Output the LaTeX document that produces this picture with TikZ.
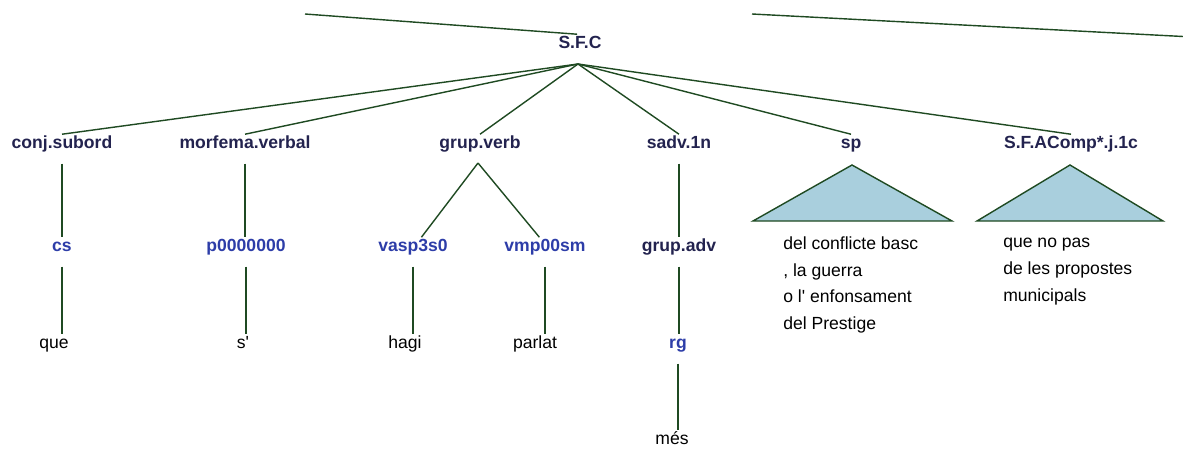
\documentclass[tikz,border=0pt]{standalone}
\usepackage{fontspec}
\setmainfont{Liberation Sans}
\usetikzlibrary{positioning,calc}
\definecolor{navy}{HTML}{23234F}
\definecolor{tagblue}{HTML}{2D3DA8}
\definecolor{branch}{HTML}{1F4A22}
\definecolor{trifill}{HTML}{A9CFDD}

\begin{document}
\begin{tikzpicture}[x=0.025cm,y=-0.025cm,
  lbl/.style={inner sep=1pt, text height=9pt, text depth=2.5pt},
  cat/.style={lbl, font=\fontsize{12.5}{14}\selectfont\bfseries, text=navy},
  tag/.style={lbl, font=\fontsize{12.5}{14}\selectfont\bfseries, text=tagblue},
  word/.style={lbl, font=\fontsize{12.5}{14}\selectfont},
  span/.style={inner sep=0pt, anchor=west, align=left, font=\fontsize{12.5}{19}\selectfont},
  edge/.style={draw=branch, line width=1pt},
  tri/.style={draw=branch, fill=trifill, line width=1pt}]
\useasboundingbox (0,0) rectangle (1183,448);

% root of this piece and the cut-off lines above it
\node[cat] (sfc) at (580,44) {S.F.C};
\coordinate (sfcb) at (578,64);
\coordinate (upL) at (305,14);
\coordinate (upR) at (752,14);
\coordinate (offR) at (1183,36.5);
\draw[edge] (upL) -- ([xshift=-2]sfc.north);
\draw[edge] (upR) -- (offR);

% first level
\foreach \name/\x/\txt in {%
  conj/62/conj.subord,%
  morf/245/morfema.verbal,%
  gv/480/grup.verb,%
  sadv/679/sadv.1n,%
  sp/851/sp,%
  sfa/1071/{S.F.AComp*.j.1c}%
} {
  \node[cat] (\name) at (\x,144) {\txt};
  \draw[edge] (sfcb) -- (\name.north);
}

% second level
\node[tag] (cs) at (62,247) {cs};
\node[tag] (pron) at (246,247) {p0000000};
\node[tag] (vasp) at (413,247) {vasp3s0};
\node[tag] (vmp) at (545,247) {vmp00sm};
\node[cat] (gadv) at (679,247) {grup.adv};
\coordinate (gvb) at (478,163);
\draw[edge] ([yshift=-7pt]conj.south) -- (conj.south |- cs.north);
\draw[edge] ([yshift=-7pt]morf.south) -- (morf.south |- pron.north);
\draw[edge] (gvb) -- ([xshift=6]vasp.north);
\draw[edge] (gvb) -- ([xshift=-4]vmp.north);
\draw[edge] ([yshift=-7pt]sadv.south) -- (sadv.south |- gadv.north);

% collapsed phrases
\draw[tri] (852,165) -- (952,221) -- (753,221) -- cycle;
\draw[tri] (1070,165) -- (1163,221) -- (977,221) -- cycle;
\node[span] (spwords) at (783,285) {del conflicte basc\\, la guerra\\o l\textquotesingle{} enfonsament\\del Prestige};
\node[span] (sfawords) at (1003,271.5) {que no pas\\de les propostes\\municipals};

% third level
\node[word] (que) at (54,344) {que};
\node[word] (s) at (243,344) {s\textquotesingle};
\node[word] (hagi) at (405,344) {hagi};
\node[word] (parlat) at (535,344) {parlat};
\node[tag] (rg) at (678,344) {rg};
\draw[edge] ([yshift=-7pt]cs.south) -- (cs.south |- que.north);
\draw[edge] ([yshift=-7pt]pron.south) -- (pron.south |- s.north);
\draw[edge] ([yshift=-7pt]vasp.south) -- (vasp.south |- hagi.north);
\draw[edge] ([yshift=-7pt]vmp.south) -- (vmp.south |- parlat.north);
\draw[edge] ([yshift=-7pt]gadv.south) -- (gadv.south |- rg.north);

% fourth level
\node[word] (mes) at (672,440) {més};
\draw[edge] ([yshift=-7pt]rg.south) -- (rg.south |- mes.north);
\end{tikzpicture}
\end{document}
